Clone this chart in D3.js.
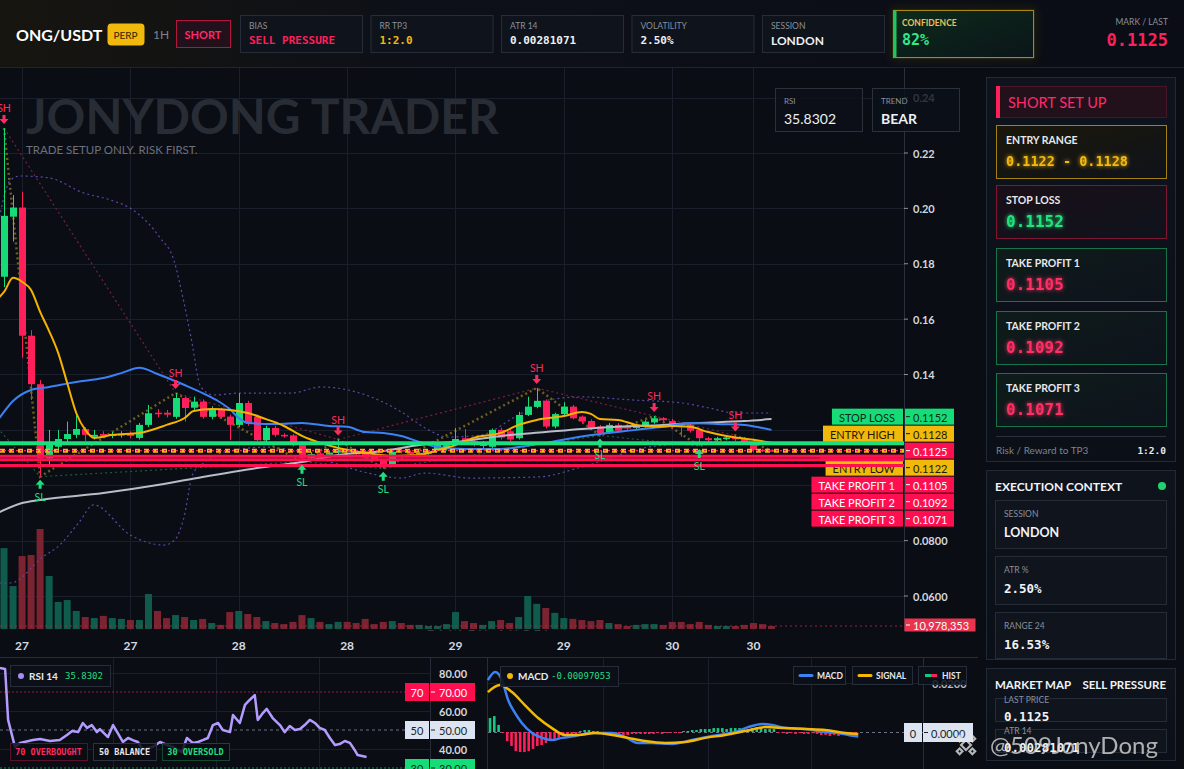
<!DOCTYPE html>
<html>
<head>
<meta charset="utf-8">
<script src="https://cdn.jsdelivr.net/npm/d3@7"></script>
<style>
html, body { margin: 0; padding: 0; background: #0a0d14; overflow: hidden; }
svg { display: block; }
</style>
</head>
<body>
<svg id="chart" width="1184" height="769"></svg>
<script>
// ---- data ----
var opens = [.1753,.1970,.2003,.1540,.1365,.1097,.1139,.1167,.1182,.1203,
  .1175,.1185,.1178,.1180,.1188,.1171,.1218,.1262,.1262,.1247,
  .1315,.1280,.1302,.1247,.1272,.1248,.1218,.1297,.1248,.1163,
  .1207,.1182,.1180,.1145,.1098,.1115,.1110,.1118,.1130,.1122,
  .1118,.1105,.1090,.1073,.1127,.1120,.1113,.1114,.1127,.1130,
  .1153,.1170,.1160,.1142,.1139,.1200,.1195,.1170,.1254,.1283,
  .1305,.1212,.1257,.1284,.1248,.1232,.1212,.1190,.1218,.1212,
  .1207,.1212,.1227,.1242,.1232,.1215,.1218,.1200,.1170,.1163,
  .1167,.1172,.1170,.1154,.1128,.1127];
var highs = [.2290,.2048,.2060,.1560,.1380,.1200,.1200,.1230,.1260,.1210,
  .1200,.1195,.1192,.1195,.1195,.1225,.1290,.1275,.1272,.1333,
  .1320,.1320,.1310,.1285,.1280,.1255,.1333,.1305,.1255,.1215,
  .1215,.1188,.1185,.1150,.1120,.1122,.1125,.1165,.1138,.1128,
  .1122,.1110,.1095,.1128,.1132,.1126,.1122,.1124,.1150,.1150,
  .1207,.1203,.1165,.1160,.1205,.1208,.1200,.1265,.1320,.1351,
  .1310,.1262,.1300,.1290,.1252,.1238,.1218,.1225,.1225,.1218,
  .1222,.1235,.1250,.1246,.1240,.1220,.1222,.1205,.1175,.1175,
  .1178,.1180,.1174,.1158,.1132,.1130];
var lows = [.1716,.1880,.1460,.1308,.1031,.1067,.1125,.1150,.1170,.1160,
  .1165,.1170,.1170,.1172,.1170,.1165,.1210,.1245,.1245,.1240,
  .1230,.1268,.1240,.1238,.1240,.1163,.1210,.1215,.1160,.1155,
  .1175,.1172,.1140,.1085,.1092,.1102,.1105,.1112,.1115,.1108,
  .1095,.1088,.1060,.1068,.1115,.1108,.1108,.1110,.1122,.1125,
  .1148,.1148,.1140,.1135,.1135,.1165,.1160,.1165,.1250,.1278,
  .1205,.1205,.1252,.1238,.1225,.1200,.1180,.1185,.1192,.1200,
  .1202,.1208,.1222,.1230,.1205,.1175,.1190,.1142,.1158,.1158,
  .1162,.1160,.1148,.1118,.1120,.1120];
var closes = [.1973,.2003,.1540,.1365,.1097,.1153,.1167,.1185,.1203,.1182,
  .1182,.1178,.1185,.1186,.1178,.1218,.1260,.1258,.1255,.1315,
  .1279,.1302,.1247,.1272,.1247,.1218,.1297,.1225,.1163,.1207,
  .1182,.1178,.1145,.1098,.1112,.1108,.1118,.1130,.1120,.1112,
  .1100,.1092,.1065,.1121,.1122,.1113,.1117,.1120,.1145,.1145,
  .1167,.1153,.1145,.1155,.1200,.1172,.1165,.1254,.1284,.1305,
  .1212,.1257,.1284,.1242,.1230,.1206,.1188,.1218,.1197,.1205,
  .1218,.1230,.1242,.1235,.1212,.1212,.1197,.1170,.1163,.1170,
  .1172,.1166,.1153,.1127,.1124,.1125];
// volume in millions
var volumes = [296,157,267,271,366,194,99,106,66,44,
  40,48,40,37,33,33,128,66,40,51,
  44,33,37,22,15,62,66,55,44,29,
  22,18,26,51,40,26,18,26,26,22,
  37,18,26,29,22,15,15,11,11,18,
  62,29,22,15,29,33,22,44,121,92,
  77,59,40,37,33,29,33,22,18,11,
  15,18,18,15,26,26,18,26,15,11,
  11,11,15,22,18,10.978353];

// overlays: [bar index, price]
var emaFast = [[-0.5,.1680],[0,.1698],[1,.1749],[2,.1735],[3,.1705],[4,.1626],[5,.1557],[6,.1478],[7,.1369],[8,.1261],
  [9,.1200],[10,.1171],[12,.1182],[15,.1189],[18,.1218],[20,.1243],[21,.1268],[23,.1275],[25,.1272],[27,.1261],
  [29,.1239],[31,.1214],[33,.1178],[35,.1153],[37,.1135],[40,.1117],[43,.1106],[46,.1109],[48,.1127],[50,.1145],
  [52,.1171],[55,.1189],[57,.1218],[59,.1236],[62,.1250],[64,.1265],[65,.1258],[66,.1239],[68,.1236],[70,.1218],
  [72,.1211],[74,.1214],[76,.1211],[78,.1192],[80,.1178],[83,.1164],[85,.1153]];
var emaMid = [[-0.5,.1243],[1,.1304],[3,.1344],[5,.1355],[8,.1373],[11,.1387],[13,.1405],[15,.1424],[17,.1402],[20,.1362],
  [22,.1333],[23.5,.1308],[25,.1275],[26,.1243],[27,.1225],[30,.1221],[33,.1225],[36,.1214],[38,.1211],[40,.1192],
  [42,.1189],[44,.1178],[46,.1156],[48,.1138],[51,.1131],[55,.1131],[57,.1138],[60,.1153],[63,.1171],[66,.1185],
  [70,.1200],[73,.1211],[76,.1225],[79,.1221],[82,.1218],[84,.1207],[85,.1200]];
var emaSlow = [[-0.5,.0903],[2,.0936],[4,.0947],[11,.0972],[17,.1001],[22,.1030],[28,.1062],[33,.1084],[37,.1109],[42,.1124],
  [46,.1145],[51,.1160],[55,.1178],[60,.1192],[64,.1203],[68,.1211],[73,.1218],[77,.1225],[82,.1232],[85,.1239]];
var bbUpper = [[-0.5,.1969],[0.7,.2102],[1.8,.2117],[5,.2110],[8.8,.2056],[11.8,.2030],[14.3,.1994],[17.3,.1893],[18.8,.1814],[19.8,.1680],
  [20.7,.1536],[21.8,.1355],[23.2,.1326],[26.2,.1333],[31.8,.1333],[35.1,.1355],[38.1,.1344],[42,.1300],[44,.1265],[47,.1200],
  [49.2,.1174],[52.9,.1182],[56.6,.1247],[60.3,.1308],[64,.1319],[69.6,.1308],[75.1,.1297],[78.1,.1279],[81,.1261],[85,.1261]];
var bbLower = [[-0.5,.0647],[0.7,.0647],[4.3,.0741],[6.2,.0785],[8.4,.0870],[9.9,.0929],[14,.0820],[17.7,.0784],[18.9,.0802],[19.9,.0880],
  [20.9,.1040],[22.1,.1080],[25.4,.1127],[29.2,.1138],[32.9,.1117],[36.6,.1080],[40.3,.1044],[44,.1026],[46.6,.1044],[51.8,.1026],
  [59.2,.1030],[64,.1066],[71.4,.1138],[78.8,.1156],[85,.1156]];
var swingHighs = [[0,.2290],[19,.1333],[37,.1165],[59,.1351],[72,.1250],[81,.1180]];
var swingLows = [[4,.1031],[33,.1085],[42,.1060],[66,.1180],[77,.1142]];
var lastPoint = [85,.1125];

var priceTicks = [0.24,0.22,0.20,0.18,0.16,0.14,0.12,0.10,0.08,0.06];
var priceTickLabels = ["0.24","0.22","0.20","0.18","0.16","0.14","0.12","0.10","0.0800","0.0600"];
var timeTicks = [2,14,26,38,50,62,74,83];
var timeLabels = ["27","27","28","28","29","29","30","30"];

var levelNames = ["STOP LOSS","ENTRY HIGH","","ENTRY LOW","TAKE PROFIT 1","TAKE PROFIT 2","TAKE PROFIT 3"];
var levelValues = [0.1152,0.1128,0.1125,0.1122,0.1105,0.1092,0.1071];

// RSI: [bar index, value]
var rsiPoints = [[0,82.6],[1.2,82.1],[1.9,55.3],[3.5,41.1],[4.7,43.2],[7.7,44.7],[9.4,45.3],[11.7,44.2],[14,44.7],[15.7,47.4],
  [16.9,49.5],[18.3,48.9],[19.4,53.7],[20.4,51.1],[21.5,52.6],[22.7,48.9],[23.4,50.5],[25.3,46.3],[26.5,52.6],[27.6,48.4],
  [28.8,43.7],[30,45.8],[31.1,44.7],[32.3,43.7],[33.5,39.5],[34.7,40.5],[35.8,41.1],[37.5,43.7],[39.1,42.1],[40.5,41.1],
  [41.7,39.5],[42.6,38.4],[43.8,45.8],[45.2,43.2],[46.4,43.7],[47.5,44.7],[48.7,45.8],[49.9,52.6],[51.1,53.7],[52.2,50],
  [53.9,48.9],[54.6,57.9],[56.2,53.7],[57.4,63.2],[58.5,65.8],[59.7,68.4],[60.4,55.3],[61.6,58.9],[62.5,61.1],[63.9,56.3],
  [65.6,52.6],[66.7,48.9],[67.9,52.1],[69.1,50],[70.3,50.5],[71.4,52.6],[72.6,55.3],[73.8,53.7],[74.9,51.1],[76.1,50],
  [77.3,45.8],[78.5,42.1],[79.6,42.6],[80.8,44.2],[82,43.2],[83.1,39.5],[83.8,36.8],[85.9,35.8]];
var rsiTicks = [80,60,40];

// MACD: [bar index, value]
var macdPoints = [[-0.5,.0212],[1.2,.0245],[2.8,.0212],[4.2,.0131],[5.8,.0078],[7.4,.0037],[9.8,-.0004],[12.1,-.0024],[14.4,-.0033],[16.7,-.0024],
  [19.8,-.0016],[23.7,-.0004],[28.4,-.0004],[31.4,-.0020],[34.4,-.0045],[37.7,-.0045],[42.3,-.0049],[47,-.0033],[51.6,-.0016],[57,0],
  [60,.0020],[63.3,.0033],[65.6,.0029],[68.6,.0016],[73.3,.0012],[77.9,0],[80.9,-.0004],[83.3,-.0012],[85.6,-.0018]];
var signalPoints = [[-0.5,.0163],[2.3,.0192],[5.1,.0163],[8.1,.0110],[11.2,.0057],[14.4,.0016],[17.4,-.0012],[20.5,-.0012],[24.4,-.0004],[28.4,-.0012],
  [32.1,-.0024],[36,-.0037],[40.7,-.0045],[45.3,-.0041],[50,-.0024],[54.7,-.0012],[59.3,.0004],[64,.0020],[68.6,.0016],[73.3,.0012],
  [77.9,.0008],[82.6,-.0004],[85.6,-.0008]];
var histValues = [.0057,.0065,.0029,-.0004,-.0037,-.0057,-.0078,-.0082,-.0082,-.0078,
  -.0069,-.0057,-.0053,-.0045,-.0037,-.0033,-.0024,-.0016,-.0016,-.0012,
  -.0008,.0004,.0008,.0008,.0004,.0004,-.0004,-.0008,-.0008,-.0008,
  -.0012,-.0012,-.0012,-.0008,-.0008,-.0008,-.0008,-.0008,-.0008,-.0004,
  -.0008,-.0004,-.0004,-.0004,-.0004,.0004,.0004,.0008,.0008,.0012,
  .0012,.0012,.0016,.0016,.0016,.0012,.0016,.0016,.0016,.0016,
  .0012,.0016,.0020,.0016,.0012,.0012,.0012,-.0004,-.0004,-.0008,
  -.0004,-.0008,-.0004,-.0008,-.0008,-.0004,-.0008,-.0012,-.0012,-.0016,
  -.0012,-.0016,-.0012,-.0012,-.0016,-.0012];

// header / panels text
var headerLabels = ["BIAS","RR TP3","ATR 14","VOLATILITY","SESSION"];
var headerValues = ["SELL PRESSURE","1:2.0","0.00281071","2.50%","LONDON"];
var setupNames = ["ENTRY RANGE","STOP LOSS","TAKE PROFIT 1","TAKE PROFIT 2","TAKE PROFIT 3"];
var setupValues = ["0.1122 - 0.1128","0.1152","0.1105","0.1092","0.1071"];
var contextNames = ["SESSION","ATR %","RANGE 24"];
var contextValues = ["LONDON","2.50%","16.53%"];
var mapNames = ["LAST PRICE","ATR 14"];
var mapValues = ["0.1125","0.00281071"];

// ---- drawing ----
var SANS = "Lato, 'Open Sans', sans-serif";
var MONO = "'DejaVu Sans Mono', monospace";
var GREEN = "#16dc78", RED = "#ff1f5a", GOLD = "#f0b90b";

var svg = d3.select("#chart");
var defs = svg.append("defs");

function addGlow(id, dev) {
  var f = defs.append("filter").attr("id", id)
    .attr("x", "-30%").attr("y", "-60%").attr("width", "160%").attr("height", "220%");
  f.append("feGaussianBlur").attr("in", "SourceGraphic").attr("stdDeviation", dev).attr("result", "b");
  var m = f.append("feMerge");
  m.append("feMergeNode").attr("in", "b");
  m.append("feMergeNode").attr("in", "SourceGraphic");
}
addGlow("glow", 2.2);
addGlow("softglow", 5);

function grad(id, stops, x2, y2) {
  var g = defs.append("linearGradient").attr("id", id)
    .attr("x1", 0).attr("y1", 0).attr("x2", x2).attr("y2", y2);
  stops.forEach(function(s) { g.append("stop").attr("offset", s[0]).attr("stop-color", s[1]); });
}
grad("hdr", [["0", "#17150f"], ["0.35", "#0d1018"], ["1", "#0a0d15"]], 1, 0);
grad("conf", [["0", "#0d2a1c"], ["1", "#0b1518"]], 1, 1);
grad("entryg", [["0", "#1b1708"], ["1", "#0f131b"]], 1, 1);
grad("slg", [["0", "#1a0f18"], ["1", "#0f131c"]], 1, 1);
grad("tpg", [["0", "#0e1c1a"], ["1", "#0e131c"]], 1, 1);
grad("panel", [["0", "#0e131c"], ["1", "#0b0f17"]], 0, 1);

function text(g, x, y, s, size, fill, weight, anchor, family) {
  return g.append("text").attr("x", x).attr("y", y)
    .attr("font-size", size).attr("fill", fill)
    .attr("font-weight", weight || "normal")
    .attr("text-anchor", anchor || "start")
    .attr("font-family", family || SANS)
    .attr("dominant-baseline", "central")
    .text(s);
}
function rect(g, x, y, w, h, fill, stroke, r) {
  return g.append("rect").attr("x", x + 0.5).attr("y", y + 0.5)
    .attr("width", w).attr("height", h).attr("rx", r || 0)
    .attr("fill", fill).attr("stroke", stroke || "none");
}

svg.append("rect").attr("width", 1184).attr("height", 769).attr("fill", "#0a0d14");

// header
var hdr = svg.append("g");
hdr.append("rect").attr("width", 1184).attr("height", 67).attr("fill", "url(#hdr)");
hdr.append("line").attr("x1", 0).attr("x2", 1184).attr("y1", 67.5).attr("y2", 67.5).attr("stroke", "#1e2430");
text(hdr, 16, 34, "ONG/USDT", 16, "#ffffff", "bold");
rect(hdr, 107, 23, 37, 22, GOLD, null, 4);
text(hdr, 125.5, 34.5, "PERP", 10, "#2a1d00", "normal", "middle");
text(hdr, 153, 34.5, "1H", 12, "#7d8490");
rect(hdr, 176, 20, 54, 27, "#22101a", "#b3163d");
text(hdr, 203, 34, "SHORT", 11, "#ff2a6d", "bold", "middle");

var headerColors = ["#ff1f5a", "#f5b90f", "#eef0f4", "#eef0f4", "#eef0f4"];
headerLabels.forEach(function(l, k) {
  var bx = 240 + k * 130.5;
  rect(hdr, bx, 15, 122, 37, "#0e131c", "#262d39");
  text(hdr, bx + 9, 26, l, 8.5, "#8a909c");
  text(hdr, bx + 9, 40, headerValues[k], k === 4 ? 12 : 11, headerColors[k], "bold", "start", k === 4 ? SANS : MONO);
});
// confidence card
hdr.append("rect").attr("x", 894).attr("y", 11).attr("width", 139).attr("height", 46)
  .attr("fill", "none").attr("stroke", "#6a5a10").attr("stroke-width", 3).attr("opacity", 0.5).attr("filter", "url(#softglow)");
rect(hdr, 893, 10, 140, 47, "url(#conf)", "#a88910");
hdr.append("rect").attr("x", 893.5).attr("y", 10.5).attr("width", 3).attr("height", 47).attr("fill", "#22c55e");
text(hdr, 902, 23, "CONFIDENCE", 8.5, "#e8c15a", "bold");
text(hdr, 902, 40, "82%", 15, "#2ee88a", "bold", "start", MONO);
text(hdr, 1168, 22, "MARK / LAST", 8.5, "#8a909c", "normal", "end");
text(hdr, 1168, 40, "0.1125", 17, "#ff1f5a", "bold", "end", MONO);

// ---- main price pane ----
var x = d3.scaleLinear().domain([0, 85]).range([4, 771.5]);
var y = d3.scaleLinear().domain([0.06, 0.22]).range([596, 153]);
var vy = d3.scaleLinear().domain([0, 366]).range([629, 529]);
var AX = 904;

defs.append("clipPath").attr("id", "mainclip")
  .append("rect").attr("x", 0).attr("y", 68).attr("width", AX).attr("height", 563);

var main = svg.append("g").attr("clip-path", "url(#mainclip)");

main.selectAll("line.hg").data(priceTicks).enter().append("line")
  .attr("x1", 0).attr("x2", AX)
  .attr("y1", function(d) { return Math.round(y(d)) + 0.5; })
  .attr("y2", function(d) { return Math.round(y(d)) + 0.5; })
  .attr("stroke", "#1a202b");
main.selectAll("line.vg").data(timeTicks).enter().append("line")
  .attr("x1", function(d) { return Math.round(x(d)) + 0.5; })
  .attr("x2", function(d) { return Math.round(x(d)) + 0.5; })
  .attr("y1", 68).attr("y2", 631)
  .attr("stroke", "#1a202b");

text(main, 26, 115, "JONYDONG TRADER", 48, "#282c35", "bold");
text(main, 26, 149, "TRADE SETUP ONLY. RISK FIRST.", 11.5, "#6c717c");

var bars = opens.map(function(o, i) {
  return { i: i, o: o, h: highs[i], l: lows[i], c: closes[i], v: volumes[i], up: closes[i] >= o };
});

// volume
main.selectAll("rect.vol").data(bars).enter().append("rect")
  .attr("x", function(d) { return x(d.i) - 3.5; })
  .attr("width", 7)
  .attr("y", function(d) { return vy(d.v); })
  .attr("height", function(d) { return 629 - vy(d.v); })
  .attr("fill", function(d) { return d.up ? "#0f5c4c" : "#7b2330"; });
main.append("line").attr("x1", 0).attr("x2", AX).attr("y1", vy(volumes[85])).attr("y2", vy(volumes[85]))
  .attr("stroke", "#b32a44").attr("stroke-dasharray", "2,3").attr("opacity", 0.8);
text(main, 427, 633, "FALLEN ANGEL", 12, "#373c47", "bold").attr("letter-spacing", 3.5);

var smooth = d3.line().x(function(d) { return x(d[0]); }).y(function(d) { return y(d[1]); }).curve(d3.curveMonotoneX);
var straight = d3.line().x(function(d) { return x(d[0]); }).y(function(d) { return y(d[1]); });

// bands
[bbUpper, bbLower].forEach(function(s) {
  main.append("path").attr("d", smooth(s)).attr("fill", "none")
    .attr("stroke", "#5b49a6").attr("stroke-width", 1.2).attr("stroke-dasharray", "2,3");
});
// swing trend lines
main.append("path").attr("d", straight(swingHighs)).attr("fill", "none")
  .attr("stroke", "#7a1f3c").attr("stroke-width", 1.2).attr("stroke-dasharray", "2,3");
main.append("path").attr("d", straight([[-4, .1330]].concat(swingLows))).attr("fill", "none")
  .attr("stroke", "#1d5a3c").attr("stroke-width", 1.2).attr("stroke-dasharray", "2,3");
var zig = swingHighs.concat(swingLows).sort(function(a, b) { return a[0] - b[0]; }).concat([lastPoint]);
main.append("path").attr("d", straight(zig)).attr("fill", "none")
  .attr("stroke", "#6e5f1c").attr("stroke-width", 2.5).attr("stroke-dasharray", "2,3");

// candles
main.selectAll("line.wick").data(bars).enter().append("line")
  .attr("x1", function(d) { return Math.round(x(d.i)) + 0.5; })
  .attr("x2", function(d) { return Math.round(x(d.i)) + 0.5; })
  .attr("y1", function(d) { return y(d.h); })
  .attr("y2", function(d) { return y(d.l); })
  .attr("stroke", function(d) { return d.up ? GREEN : RED; });
main.selectAll("rect.body").data(bars).enter().append("rect")
  .attr("x", function(d) { return Math.round(x(d.i)) - 3; })
  .attr("width", 7)
  .attr("y", function(d) { return y(Math.max(d.o, d.c)); })
  .attr("height", function(d) { return Math.max(1.5, Math.abs(y(d.o) - y(d.c))); })
  .attr("fill", function(d) { return d.up ? GREEN : RED; });

// moving averages
[[emaSlow, "#b9bdc8"], [emaMid, "#3b82f6"], [emaFast, "#f5b300"]].forEach(function(s) {
  main.append("path").attr("d", smooth(s[0])).attr("fill", "none")
    .attr("stroke", s[1]).attr("stroke-width", 2);
});

// trade levels
main.append("line").attr("x1", 0).attr("x2", AX).attr("y1", y(levelValues[0])).attr("y2", y(levelValues[0]))
  .attr("stroke", "#19e07c").attr("stroke-width", 4);
main.append("line").attr("x1", 0).attr("x2", AX).attr("y1", y(levelValues[2])).attr("y2", y(levelValues[2]))
  .attr("stroke", GOLD).attr("stroke-width", 4).attr("stroke-dasharray", "5,4");
main.append("line").attr("x1", 0).attr("x2", AX).attr("y1", y(levelValues[2])).attr("y2", y(levelValues[2]))
  .attr("stroke", "#ff1f5a").attr("stroke-width", 1.2).attr("stroke-dasharray", "2,2");
[4, 5, 6].forEach(function(k) {
  main.append("line").attr("x1", 0).attr("x2", AX).attr("y1", y(levelValues[k])).attr("y2", y(levelValues[k]))
    .attr("stroke", "#ff1050").attr("stroke-width", 3);
});

// swing markers
function arrow(cx, top, down) {
  var t = top, b = top + 9;
  if (down) return "M" + (cx - 1.5) + "," + t + "H" + (cx + 1.5) + "V" + (t + 4) + "H" + (cx + 4.5) + "L" + cx + "," + b + "L" + (cx - 4.5) + "," + (t + 4) + "H" + (cx - 1.5) + "Z";
  return "M" + (cx - 1.5) + "," + b + "H" + (cx + 1.5) + "V" + (b - 4) + "H" + (cx + 4.5) + "L" + cx + "," + t + "L" + (cx - 4.5) + "," + (b - 4) + "H" + (cx - 1.5) + "Z";
}
swingHighs.forEach(function(s) {
  var cx = x(s[0]), yy = y(s[1]);
  main.append("path").attr("d", arrow(cx, yy - 13, true)).attr("fill", "#ff2a5f");
  text(main, cx, yy - 20, "SH", 10.5, "#ff2a5f", "normal", "middle");
});
swingLows.forEach(function(s) {
  var cx = x(s[0]), yy = y(s[1]);
  main.append("path").attr("d", arrow(cx, yy + 3, false)).attr("fill", "#22dd80");
  text(main, cx, yy + 20, "SL", 10.5, "#22dd80", "normal", "middle");
});

// price axis (labels that sit under a level tag are hidden by it, so skip them)
var tagCenters = levelValues.map(function(v, k) { return y(levelValues[2]) + (k - 2) * 17; });
var ax = svg.append("g");
ax.append("line").attr("x1", AX + 0.5).attr("x2", AX + 0.5).attr("y1", 68).attr("y2", 631).attr("stroke", "#2a303c");
priceTicks.forEach(function(p, k) {
  var hidden = tagCenters.some(function(c) { return Math.abs(c - y(p)) < 12; });
  if (hidden) return;
  ax.append("line").attr("x1", AX).attr("x2", AX + 4).attr("y1", y(p)).attr("y2", y(p)).attr("stroke", "#8a909c");
  text(ax, 913, y(p), priceTickLabels[k], 11, "#d3d7de", "bold");
});

// level tags
var tagFill = [GREEN, GOLD, "#ff0f4f", GOLD, "#ff0f4f", "#ff0f4f", "#ff0f4f"];
var tagText = ["#0b2a18", "#1f1806", "#ffffff", "#1f1806", "#ffffff", "#ffffff", "#ffffff"];
var tags = svg.append("g");
levelValues.forEach(function(v, k) {
  var cy = tagCenters[k];
  tags.append("rect").attr("x", AX + 1).attr("y", cy - 8).attr("width", 49).attr("height", 16).attr("fill", tagFill[k]);
  tags.append("line").attr("x1", AX + 2).attr("x2", AX + 6).attr("y1", cy).attr("y2", cy).attr("stroke", tagText[k]);
  text(tags, AX + 9, cy + 0.5, v.toFixed(4), 11, tagText[k]);
  if (levelNames[k]) {
    var t = text(tags, AX - 9, cy + 0.5, levelNames[k], 11, tagText[k], "normal", "end");
    var w = t.node().getComputedTextLength() + 16;
    tags.insert("rect", function() { return t.node(); })
      .attr("x", AX - w).attr("y", cy - 8).attr("width", w - 1).attr("height", 16).attr("fill", tagFill[k]);
  }
});
// red TP lines run over the entry-low tag, as in the chart
[4, 5, 6].forEach(function(k) {
  tags.append("line").attr("x1", 820).attr("x2", AX).attr("y1", y(levelValues[k])).attr("y2", y(levelValues[k]))
    .attr("stroke", "#ff1050").attr("stroke-width", 3);
});

// volume tag
rect(svg, 904, 618, 71, 13, "#e8344e");
svg.append("line").attr("x1", 906).attr("x2", 910).attr("y1", 625).attr("y2", 625).attr("stroke", "#fff");
text(svg, 913, 625, d3.format(",")(Math.round(volumes[85] * 1e6)), 11, "#ffffff");

// RSI / TREND cards
var cards = svg.append("g");
rect(cards, 775, 88, 87, 43, "rgba(12,16,24,0.88)", "#2a303c");
text(cards, 784, 101, "RSI", 8, "#8a909c");
text(cards, 784, 118, "35.8302", 14, "#eef0f4", "normal");
rect(cards, 872, 88, 87, 43, "rgba(12,16,24,0.82)", "#2a303c");
text(cards, 881, 101, "TREND", 8, "#8a909c");
text(cards, 881, 118, "BEAR", 14, "#eef0f4", "bold");

// time axis
var tx = svg.append("g");
timeTicks.forEach(function(t, k) {
  text(tx, x(t), 645, timeLabels[k], 12, "#d6dae1", "bold", "middle");
});
tx.append("line").attr("x1", 0).attr("x2", 978).attr("y1", 657.5).attr("y2", 657.5).attr("stroke", "#262d39");

// ---- RSI pane ----
var rsiX = d3.scaleLinear().domain([0, 86]).range([0, 367]);
var rsiY = d3.scaleLinear().domain([30, 80]).range([768, 673]);
var rp = svg.append("g");
rsiTicks.forEach(function(v) {
  rp.append("line").attr("x1", 0).attr("x2", 430).attr("y1", rsiY(v) + 0.5).attr("y2", rsiY(v) + 0.5).attr("stroke", "#1a202b");
});
[113, 216, 319].forEach(function(vx) {
  rp.append("line").attr("x1", vx + 0.5).attr("x2", vx + 0.5).attr("y1", 658).attr("y2", 769).attr("stroke", "#1a202b");
});
rp.append("line").attr("x1", 0).attr("x2", 430).attr("y1", rsiY(70)).attr("y2", rsiY(70)).attr("stroke", "#9a1a40").attr("stroke-dasharray", "2,2");
rp.append("line").attr("x1", 0).attr("x2", 430).attr("y1", rsiY(50)).attr("y2", rsiY(50)).attr("stroke", "#6b7280").attr("stroke-dasharray", "3,3");
rp.append("line").attr("x1", 0).attr("x2", 430).attr("y1", rsiY(30)).attr("y2", rsiY(30)).attr("stroke", "#138a52").attr("stroke-dasharray", "2,2");
rp.append("path")
  .attr("d", d3.line().x(function(d) { return rsiX(d[0]); }).y(function(d) { return rsiY(d[1]); })(rsiPoints))
  .attr("fill", "none").attr("stroke", "#b49cff").attr("stroke-width", 2.5).attr("stroke-linejoin", "round");
rp.append("line").attr("x1", 430.5).attr("x2", 430.5).attr("y1", 658).attr("y2", 769).attr("stroke", "#262d39");
rp.append("line").attr("x1", 487.5).attr("x2", 487.5).attr("y1", 658).attr("y2", 769).attr("stroke", "#262d39");

rect(rp, 10, 665, 100, 21, "rgba(12,16,24,0.9)", "#262d39");
rp.append("circle").attr("cx", 21).attr("cy", 676).attr("r", 3).attr("fill", "#a78bfa");
text(rp, 29, 676, "RSI 14", 10, "#e6e8ee", "bold");
text(rp, 65, 676, "35.8302", 9, "#22dd80", "normal", "start", MONO);

var zoneNames = ["70 OVERBOUGHT", "50 BALANCE", "30 OVERSOLD"];
var zoneX = [10, 93, 162], zoneW = [77, 63, 67];
var zoneStroke = ["#5a1028", "#2c323e", "#124a30"], zoneColor = ["#ff2a5f", "#e6e8ee", "#22dd80"];
zoneNames.forEach(function(n, k) {
  rect(rp, zoneX[k], 743, zoneW[k], 17, "rgba(10,13,20,0.85)", zoneStroke[k]);
  text(rp, zoneX[k] + zoneW[k] / 2, 752, n, 8.5, zoneColor[k], "bold", "middle", MONO);
});
text(rp, 439, rsiY(80), "80.00", 11, "#d3d7de", "bold");
text(rp, 439, rsiY(60), "60.00", 11, "#d3d7de", "bold");
text(rp, 439, rsiY(40), "40.00", 11, "#d3d7de", "bold");
var rsiTagV = [70, 50, 30], rsiTagFill = ["#ff0f4f", "#dbe4f0", GREEN], rsiTagText = ["#ffffff", "#1a1f2a", "#0b2a18"];
rsiTagV.forEach(function(v, k) {
  var cy = rsiY(v);
  rp.append("rect").attr("x", 405).attr("y", cy - 9).attr("width", 24).attr("height", 18).attr("fill", rsiTagFill[k]);
  text(rp, 417, cy + 0.5, String(v), 11, rsiTagText[k], "normal", "middle");
  rp.append("rect").attr("x", 430).attr("y", cy - 9).attr("width", 45).attr("height", 18).attr("fill", rsiTagFill[k]);
  rp.append("line").attr("x1", 431).attr("x2", 435).attr("y1", cy).attr("y2", cy).attr("stroke", rsiTagText[k]);
  text(rp, 439, cy + 0.5, v.toFixed(2), 11, rsiTagText[k]);
});

// ---- MACD pane ----
var macdX = d3.scaleLinear().domain([0, 86]).range([490, 860]);
var macdY = d3.scaleLinear().domain([0, 0.02]).range([732, 683]);
var mp = svg.append("g");
mp.append("line").attr("x1", 488).attr("x2", 923).attr("y1", 683.5).attr("y2", 683.5).attr("stroke", "#1a202b");
[603, 708, 811].forEach(function(vx) {
  mp.append("line").attr("x1", vx + 0.5).attr("x2", vx + 0.5).attr("y1", 658).attr("y2", 769).attr("stroke", "#1a202b");
});
mp.append("line").attr("x1", 488).attr("x2", 923).attr("y1", 732.5).attr("y2", 732.5).attr("stroke", "#6b7280").attr("stroke-dasharray", "3,3");
mp.selectAll("rect.hist").data(histValues).enter().append("rect")
  .attr("x", function(d, i) { return macdX(i) - 1.3; })
  .attr("width", 2.6)
  .attr("y", function(d) { return Math.min(macdY(d), macdY(0)); })
  .attr("height", function(d) { return Math.abs(macdY(d) - macdY(0)); })
  .attr("fill", function(d) { return d >= 0 ? "#16c784" : "#ff1f5a"; });
var mline = d3.line().x(function(d) { return macdX(d[0]); }).y(function(d) { return macdY(d[1]); }).curve(d3.curveMonotoneX);
mp.append("path").attr("d", mline(macdPoints)).attr("fill", "none").attr("stroke", "#3b82f6").attr("stroke-width", 2.5);
mp.append("path").attr("d", mline(signalPoints)).attr("fill", "none").attr("stroke", "#f5b800").attr("stroke-width", 2.5);
mp.append("line").attr("x1", 923.5).attr("x2", 923.5).attr("y1", 658).attr("y2", 769).attr("stroke", "#262d39");

text(mp, 932, 683, "0.0200", 11, "#b8bcc4", "bold");
rect(mp, 500, 666, 118, 20, "rgba(12,16,24,0.9)", "#262d39");
mp.append("circle").attr("cx", 510).attr("cy", 676).attr("r", 3).attr("fill", "#f5b800");
text(mp, 518, 676, "MACD", 10, "#e6e8ee", "bold");
text(mp, 551, 676, "-0.00097053", 9, "#22dd80", "normal", "start", MONO);

var legNames = ["MACD", "SIGNAL", "HIST"], legX = [793, 852, 918], legW = [52, 60, 48];
legNames.forEach(function(n, k) {
  rect(mp, legX[k], 666, legW[k], 18, "rgba(12,16,24,0.85)", "#262d39");
  var sx = legX[k] + 7;
  if (k === 2) {
    mp.append("line").attr("x1", sx).attr("x2", sx + 6).attr("y1", 675.5).attr("y2", 675.5).attr("stroke", "#16c784").attr("stroke-width", 3);
    mp.append("line").attr("x1", sx + 6).attr("x2", sx + 12).attr("y1", 675.5).attr("y2", 675.5).attr("stroke", "#ff1f5a").attr("stroke-width", 3);
  } else {
    mp.append("line").attr("x1", sx).attr("x2", sx + 12).attr("y1", 675.5).attr("y2", 675.5)
      .attr("stroke", k === 0 ? "#3b82f6" : "#f5b800").attr("stroke-width", 3).attr("stroke-linecap", "round");
  }
  text(mp, sx + 17, 675.5, n, 8.5, "#e6e8ee", "bold");
});
mp.append("rect").attr("x", 904).attr("y", 723).attr("width", 18).attr("height", 19).attr("fill", "#dbe4f0");
text(mp, 913, 733, "0", 11, "#1a1f2a", "normal", "middle");
mp.append("rect").attr("x", 923).attr("y", 723).attr("width", 50).attr("height", 19).attr("fill", "#dbe4f0");
mp.append("line").attr("x1", 924).attr("x2", 928).attr("y1", 732.5).attr("y2", 732.5).attr("stroke", "#1a1f2a");
text(mp, 931, 733, "0.0000", 11, "#1a1f2a");

// ---- right panels ----
var rpn = svg.append("g");
rect(rpn, 986, 77, 189, 384, "url(#panel)", "#222a36");
rect(rpn, 996, 86, 170, 31, "#22101a", "#4a1526");
rpn.append("rect").attr("x", 996).attr("y", 86).attr("width", 4).attr("height", 32).attr("fill", "#ff1f5a");
text(rpn, 1008, 102, "SHORT SET UP", 14.5, "#ff2a6d");

var setupY = [125, 185, 248, 311, 373];
var setupFill = ["url(#entryg)", "url(#slg)", "url(#tpg)", "url(#tpg)", "url(#tpg)"];
var setupStroke = ["#a3810f", "#7e1634", "#17744a", "#17744a", "#17744a"];
var setupColor = ["#f5b90f", "#22e27c", "#ff2d64", "#ff2d64", "#ff2d64"];
setupNames.forEach(function(n, k) {
  rect(rpn, 996, setupY[k], 170, 53, setupFill[k], setupStroke[k]);
  text(rpn, 1006, setupY[k] + 15, n, 10.5, "#e6e8ee", "bold");
  text(rpn, 1006, setupY[k] + 36, setupValues[k], k === 0 ? 13.5 : 16, setupColor[k], "bold", "start", MONO)
    .attr("filter", "url(#glow)");
});
rpn.append("line").attr("x1", 996).attr("x2", 1166).attr("y1", 436.5).attr("y2", 436.5).attr("stroke", "#2a3140");
text(rpn, 996, 450, "Risk / Reward to TP3", 10, "#7d8491");
text(rpn, 1166, 450, "1:2.0", 9.5, "#e8eaf0", "bold", "end", MONO);

// execution context
rect(rpn, 986, 470, 189, 189, "url(#panel)", "#222a36");
text(rpn, 995, 486, "EXECUTION CONTEXT", 12, "#f2f3f6", "bold");
rpn.append("circle").attr("cx", 1162).attr("cy", 486).attr("r", 4).attr("fill", "#1fd46e");
var ctxY = [500, 556, 612];
contextNames.forEach(function(n, k) {
  rect(rpn, 995, ctxY[k], 171, Math.min(48, 658 - ctxY[k]), "#0f141d", "#252c38");
  text(rpn, 1004, ctxY[k] + 14, n, 8.5, "#8a909c");
  text(rpn, 1004, ctxY[k] + 32, contextValues[k], 12.5, "#f2f3f6", "bold", "start", k === 0 ? SANS : MONO);
});

// market map
rect(rpn, 986, 668, 189, 92, "url(#panel)", "#222a36");
text(rpn, 995, 684, "MARKET MAP", 11.5, "#f2f3f6", "bold");
text(rpn, 1166, 684, "SELL PRESSURE", 11.5, "#f2f3f6", "bold", "end");
var mapY = [698, 729];
mapNames.forEach(function(n, k) {
  rect(rpn, 995, mapY[k], 171, 23, "#0f141d", "#252c38");
  text(rpn, 1004, mapY[k] + 2, n, 8.5, "#8a909c");
  text(rpn, 1004, mapY[k] + 18, mapValues[k], 12.5, "#f2f3f6", "bold", "start", MONO);
});

// watermark logo and handle
var wm = svg.append("g").attr("opacity", 0.78);
var logo = wm.append("g").attr("transform", "translate(966,745) rotate(45)");
[[0, 0, 7], [-9, 0, 4], [9, 0, 4], [0, -9, 4], [0, 9, 4]].forEach(function(s) {
  logo.append("rect").attr("x", s[0] - s[2] / 2).attr("y", s[1] - s[2] / 2).attr("width", s[2]).attr("height", s[2])
    .attr("fill", "none").attr("stroke", "#e6e6e6").attr("stroke-width", 2.2);
});
text(wm, 990, 744, "@509JonyDong", 24, "#dcdcdc");
</script>
</body>
</html>
